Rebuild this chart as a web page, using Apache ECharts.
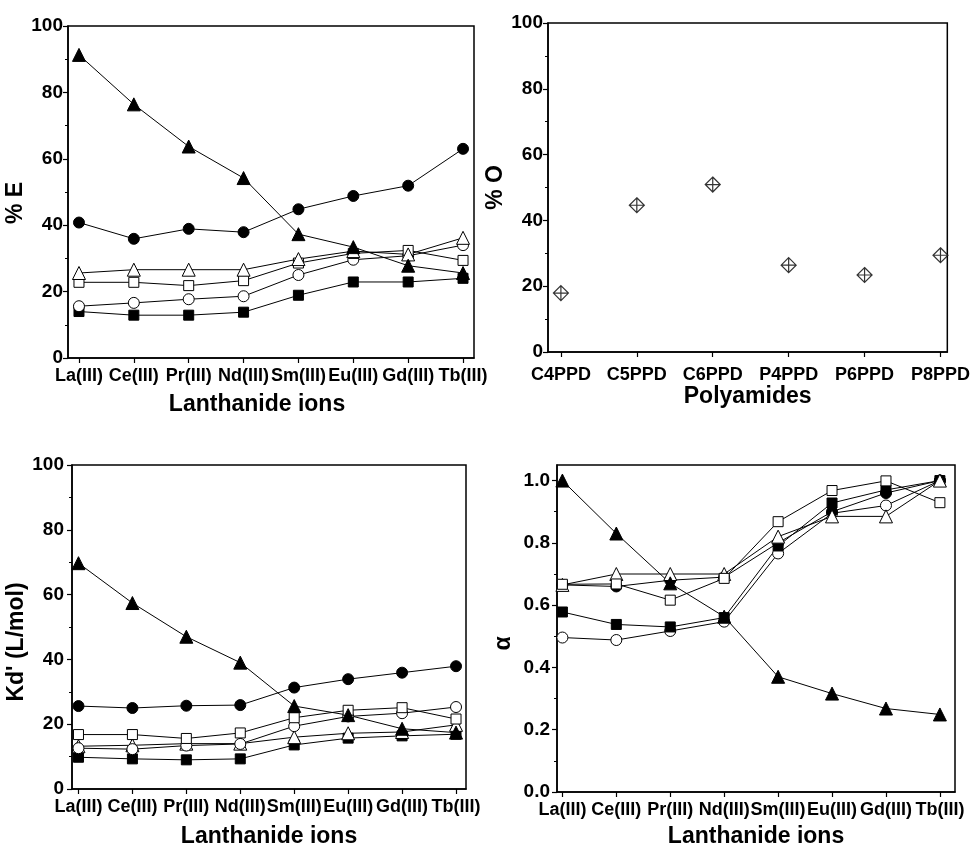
<!DOCTYPE html>
<html>
<head>
<meta charset="utf-8">
<script src="https://cdn.jsdelivr.net/npm/echarts@6/dist/echarts.min.js"></script>
<style>
html,body{margin:0;padding:0;background:#fff;}
#c{width:973px;height:849px;}
</style>
</head>
<body>
<div id="c"></div>
<script>
// ---------- data ----------
const ions = ['La(III)','Ce(III)','Pr(III)','Nd(III)','Sm(III)','Eu(III)','Gd(III)','Tb(III)'];
const polyamides = ['C4PPD','C5PPD','C6PPD','P4PPD','P6PPD','P8PPD'];

// % E
const eFilledTri  = [91.3, 76.4, 63.7, 54.2, 37.3, 33.4, 27.8, 25.6];
const eFilledCirc = [40.8, 35.9, 38.9, 37.9, 44.8, 48.8, 51.9, 63.0];
const eOpenTri    = [25.6, 26.6, 26.6, 26.6, 29.8, 32.2, 31.2, 36.2];
const eOpenSq     = [22.8, 22.8, 21.8, 23.3, 28.6, 31.5, 32.4, 29.4];
const eOpenCirc   = [15.6, 16.6, 17.7, 18.6, 25.0, 29.6, 30.8, 34.0];
const eFilledSq   = [14.0, 12.9, 12.9, 13.8, 18.9, 22.9, 22.9, 24.0];

// % O
const oValues = [17.9, 44.6, 50.9, 26.4, 23.4, 29.4];

// Kd' (L/mol)
const kFilledTri  = [69.7, 57.4, 47.0, 39.0, 25.6, 22.8, 18.6, 17.4];
const kFilledCirc = [25.6, 25.0, 25.7, 25.9, 31.3, 33.9, 35.9, 37.9];
const kOpenSq     = [16.8, 16.8, 15.6, 17.3, 22.0, 24.3, 25.1, 21.6];
const kOpenCirc   = [12.6, 12.3, 13.4, 13.9, 19.4, 22.4, 23.4, 25.3];
const kOpenTri    = [13.2, 13.5, 14.0, 14.0, 16.0, 17.2, 17.6, 19.8];
const kFilledSq   = [9.8, 9.3, 9.0, 9.3, 13.6, 15.7, 16.4, 16.9];

// alpha
const aFilledTri  = [1.0, 0.83, 0.67, 0.563, 0.37, 0.316, 0.268, 0.249];
const aFilledCirc = [0.665, 0.66, 0.68, 0.69, 0.80, 0.90, 0.96, 1.0];
const aOpenSq     = [0.667, 0.668, 0.616, 0.686, 0.868, 0.968, 0.999, 0.929];
const aOpenTri    = [0.665, 0.70, 0.70, 0.70, 0.82, 0.885, 0.885, 1.0];
const aOpenCirc   = [0.496, 0.488, 0.517, 0.547, 0.766, 0.895, 0.92, 1.0];
const aFilledSq   = [0.578, 0.538, 0.53, 0.56, 0.79, 0.928, 0.97, 1.0];

const eTicks = [0, 20, 40, 60, 80, 100];
const eMinor = [10, 30, 50, 70, 90];
const aTicks = [0, 0.2, 0.4, 0.6, 0.8, 1.0];
const aMinor = [0.1, 0.3, 0.5, 0.7, 0.9];

// ---------- styles ----------
const FONT = '"Liberation Sans", Arial, Helvetica, sans-serif';
const MARK = {
  filledTri:  {symbol:'triangle', size:13, fill:'#000'},
  filledCirc: {symbol:'circle',   size:11, fill:'#000'},
  openTri:    {symbol:'triangle', size:13, fill:'#fff'},
  openSq:     {symbol:'rect',     size:10, fill:'#fff'},
  openCirc:   {symbol:'circle',   size:11, fill:'#fff'},
  filledSq:   {symbol:'rect',     size:10, fill:'#000'}
};

function pairs(vals){ return vals.map((v,i)=>[i,v]); }

const series = [];
function addLineSet(gi, sets){
  sets.forEach(([vals]) => {
    series.push({type:'line', xAxisIndex:gi, yAxisIndex:gi, data:pairs(vals),
      showSymbol:false, symbol:'none', silent:true, animation:false, z:2,
      lineStyle:{color:'#000', width:1}});
  });
  sets.forEach(([vals, key]) => {
    const m = MARK[key];
    series.push({type:'scatter', xAxisIndex:gi, yAxisIndex:gi, data:pairs(vals),
      symbol:m.symbol, symbolSize:m.size, animation:false, z:3,
      itemStyle:{color:m.fill, borderColor:'#000', borderWidth:1, opacity:1}});
  });
}

addLineSet(0, [[eFilledSq,'filledSq'],[eOpenCirc,'openCirc'],[eOpenSq,'openSq'],[eOpenTri,'openTri'],[eFilledCirc,'filledCirc'],[eFilledTri,'filledTri']]);
series.push({type:'scatter', xAxisIndex:1, yAxisIndex:1, data:pairs(oValues), animation:false, z:3,
  symbol:'path://M0,-10 L10,0 L0,10 L-10,0 Z M0,-10 L0,10 M-10,0 L10,0', symbolSize:15,
  itemStyle:{color:'#fff', borderColor:'#000', borderWidth:1.2}});
addLineSet(2, [[kFilledSq,'filledSq'],[kOpenTri,'openTri'],[kOpenCirc,'openCirc'],[kOpenSq,'openSq'],[kFilledCirc,'filledCirc'],[kFilledTri,'filledTri']]);
addLineSet(3, [[aOpenCirc,'openCirc'],[aFilledSq,'filledSq'],[aFilledCirc,'filledCirc'],[aOpenTri,'openTri'],[aOpenSq,'openSq'],[aFilledTri,'filledTri']]);

const grids = [
  {left:68,  top:26,  width:406, height:332},
  {left:548, top:23,  width:404, height:329},
  {left:72,  top:465, width:394, height:325},
  {left:557, top:465, width:398, height:327}
].map(g => Object.assign(g, {show:true, borderColor:'#000', borderWidth:1.5, backgroundColor:'transparent'}));

const lineAx = {show:true, onZero:false, lineStyle:{color:'#000', width:1.5}};
const labelBase = {color:'#000', fontFamily:FONT, fontWeight:'bold'};
const nameBase = {color:'#000', fontFamily:FONT, fontWeight:'bold', fontSize:23};

function xAx(gi, cats, min, max, name, nameGap, margin, pad){
  const idx = cats.map((c,i)=>i);
  return {type:'value', gridIndex:gi, min:min, max:max, position:'bottom',
    axisLine:lineAx, splitLine:{show:false},
    axisTick:{show:true, inside:false, length:5, customValues:idx, lineStyle:{color:'#000', width:1.2}},
    axisLabel:Object.assign({show:true, fontSize:18, margin:margin, customValues:idx,
      formatter:(v)=>cats[Math.round(v)]}, labelBase),
    name:name, nameLocation:'middle', nameGap:nameGap,
    nameTextStyle:Object.assign({padding:pad||0}, nameBase)};
}
function yAx(gi, min, max, interval, ticks, name, nameGap, margin, pad, fmt){
  return {type:'value', gridIndex:gi, min:min, max:max, interval:interval, position:'left',
    axisLine:lineAx, splitLine:{show:false},
    axisTick:{show:true, inside:false, length:5, customValues:ticks, lineStyle:{color:'#000', width:1.2}},
    axisLabel:Object.assign({show:true, fontSize:19, margin:margin, customValues:ticks,
      formatter: fmt || ((v)=>String(v))}, labelBase),
    name:name, nameLocation:'middle', nameGap:nameGap, nameRotate:90,
    nameTextStyle:Object.assign({padding:pad||0}, nameBase)};
}
function yMinor(gi, min, max, vals){
  return {type:'value', gridIndex:gi, min:min, max:max, position:'left',
    axisLine:{show:false, onZero:false}, splitLine:{show:false}, axisLabel:{show:false},
    axisTick:{show:true, inside:false, length:3, customValues:vals, lineStyle:{color:'#000', width:1}}};
}

const option = {
  backgroundColor:'#fff',
  animation:false,
  grid: grids,
  xAxis: [
    xAx(0, ions, -0.2, 7.2, 'Lanthanide ions', 35, 9, [0,28,0,0]),
    xAx(1, polyamides, -0.17, 5.09, 'Polyamides', 33, 14),
    xAx(2, ions, -0.12, 7.185, 'Lanthanide ions', 36, 9),
    xAx(3, ions, -0.1, 7.28, 'Lanthanide ions', 33, 9)
  ],
  yAxis: [
    yAx(0, 0, 100, 20, eTicks, '% E', 34, 5, [0,22,0,0]),
    yAx(1, 0, 100, 20, eTicks, '% O', 35, 5),
    yAx(2, 0, 100, 20, eTicks, "Kd' (L/mol)", 42, 8, [0,30,0,0]),
    yAx(3, 0, 1.05, 0.05, aTicks, 'α', 42, 7, [0,30,0,0], (v)=>v.toFixed(1)),
    yMinor(0, 0, 100, eMinor),
    yMinor(1, 0, 100, eMinor),
    yMinor(2, 0, 100, eMinor),
    yMinor(3, 0, 1.05, aMinor)
  ],
  series: series
};

const chart = echarts.init(document.getElementById('c'), null, {renderer:'canvas'});
chart.setOption(option);
</script>
</body>
</html>
